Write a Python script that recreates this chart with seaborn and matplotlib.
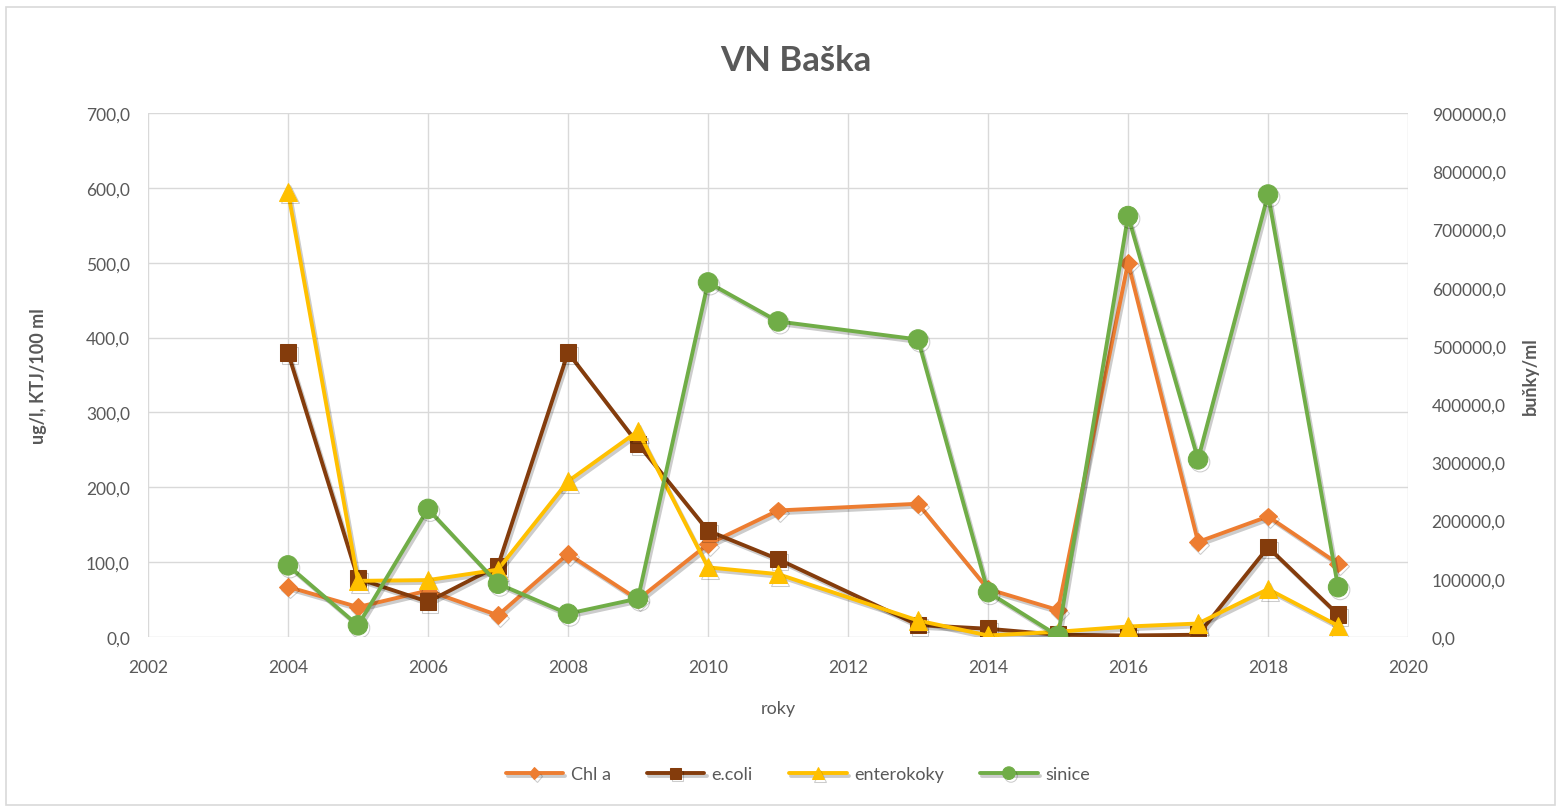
import matplotlib
matplotlib.use("Agg")
import matplotlib.pyplot as plt
import matplotlib.patheffects as pe
from matplotlib.ticker import FuncFormatter, MultipleLocator
from matplotlib.patches import Rectangle
import seaborn as sns

# data
years = [2004, 2005, 2006, 2007, 2008, 2009, 2010, 2011, 2013, 2014, 2015, 2016, 2017, 2018, 2019]
chl_a = [67, 40, 62, 29, 111, 50, 124, 169, 178, 64, 36, 500, 127, 161, 98]
e_coli = [380, 78, 47, 95, 380, 258, 142, 104, 16, 11, 3, 2, 3, 120, 30]
enterokoky = [595, 75, 76, 90, 208, 275, 93, 84, 22, 2, 7, 14, 18, 64, 15]
sinice = [123000, 20000, 220000, 91500, 40000, 66000, 609000, 542000, 511000,
          77000, 2000, 723000, 305000, 760000, 85500]

sns.set_style("white")
plt.rcParams['font.family'] = ['Lato', 'DejaVu Sans']

txt = '#595959'
grid = '#D9D9D9'

fig = plt.figure(figsize=(15.64, 8.12), dpi=100)
ax = fig.add_axes([0.0946, 0.2143, 0.8057, 0.6453])
ax2 = ax.twinx()

shadow = [pe.SimpleLineShadow(offset=(1.5, -2), alpha=0.2, shadow_color='k'), pe.Normal()]

series = [
    (chl_a, 'Chl a', '#ED7D31', 'D', 9),
    (e_coli, 'e.coli', '#843C0C', 's', 12),
    (enterokoky, 'enterokoky', '#FFC000', '^', 13),
]
for vals, name, col, mk, ms in series:
    sns.lineplot(x=years, y=vals, ax=ax, color=col, marker=mk, markersize=ms,
                 markeredgecolor=col, linewidth=2.8, label=name,
                 path_effects=shadow)

sns.lineplot(x=years, y=sinice, ax=ax2, color='#70AD47', marker='o', markersize=14,
             markeredgecolor='#70AD47', linewidth=2.8, label='sinice',
             path_effects=shadow)

ax.set_xlim(2002, 2020)
ax.set_ylim(0, 700)
ax2.set_ylim(0, 900000)
ax.xaxis.set_major_locator(MultipleLocator(2))
ax.yaxis.set_major_locator(MultipleLocator(100))
ax2.yaxis.set_major_locator(MultipleLocator(100000))

comma = FuncFormatter(lambda v, p: f"{v:.1f}".replace('.', ','))
ax.yaxis.set_major_formatter(comma)
ax2.yaxis.set_major_formatter(comma)
ax.xaxis.set_major_formatter(FuncFormatter(lambda v, p: f"{int(v)}"))

ax.grid(True, color=grid, linewidth=1.0)
ax.set_axisbelow(True)
ax2.grid(False)
for a in (ax, ax2):
    for s in a.spines.values():
        s.set_visible(False)
    a.tick_params(length=0, labelsize=12.5, labelcolor=txt)
ax.tick_params(axis='x', pad=16)
ax.tick_params(axis='y', pad=13)
ax2.tick_params(axis='y', pad=17)

ax.set_xlabel('roky', fontsize=13, color=txt, labelpad=18)
ax.set_ylabel('ug/l, KTJ/100 ml', fontsize=13, color=txt, fontweight='bold', labelpad=28)
ax2.set_ylabel('buňky/ml', fontsize=13, color=txt, fontweight='bold', labelpad=12)

fig.suptitle('VN Baška', x=0.509, y=0.945, fontsize=25, fontweight='bold', color=txt)

h1, l1 = ax.get_legend_handles_labels()
h2, l2 = ax2.get_legend_handles_labels()
for a in (ax, ax2):
    if a.get_legend() is not None:
        a.get_legend().remove()
fig.legend(h1 + h2, l1 + l2, loc='center', bbox_to_anchor=(0.51, 0.045), ncol=4,
           frameon=False, fontsize=13, labelcolor=txt, handlelength=3.2,
           columnspacing=2.0, handletextpad=0.4, markerscale=0.65)

fig.patches.append(Rectangle((0.004, 0.008), 0.99, 0.982, transform=fig.transFigure,
                             fill=False, edgecolor=grid, linewidth=1.2))

fig.savefig('out.png', dpi=100)
